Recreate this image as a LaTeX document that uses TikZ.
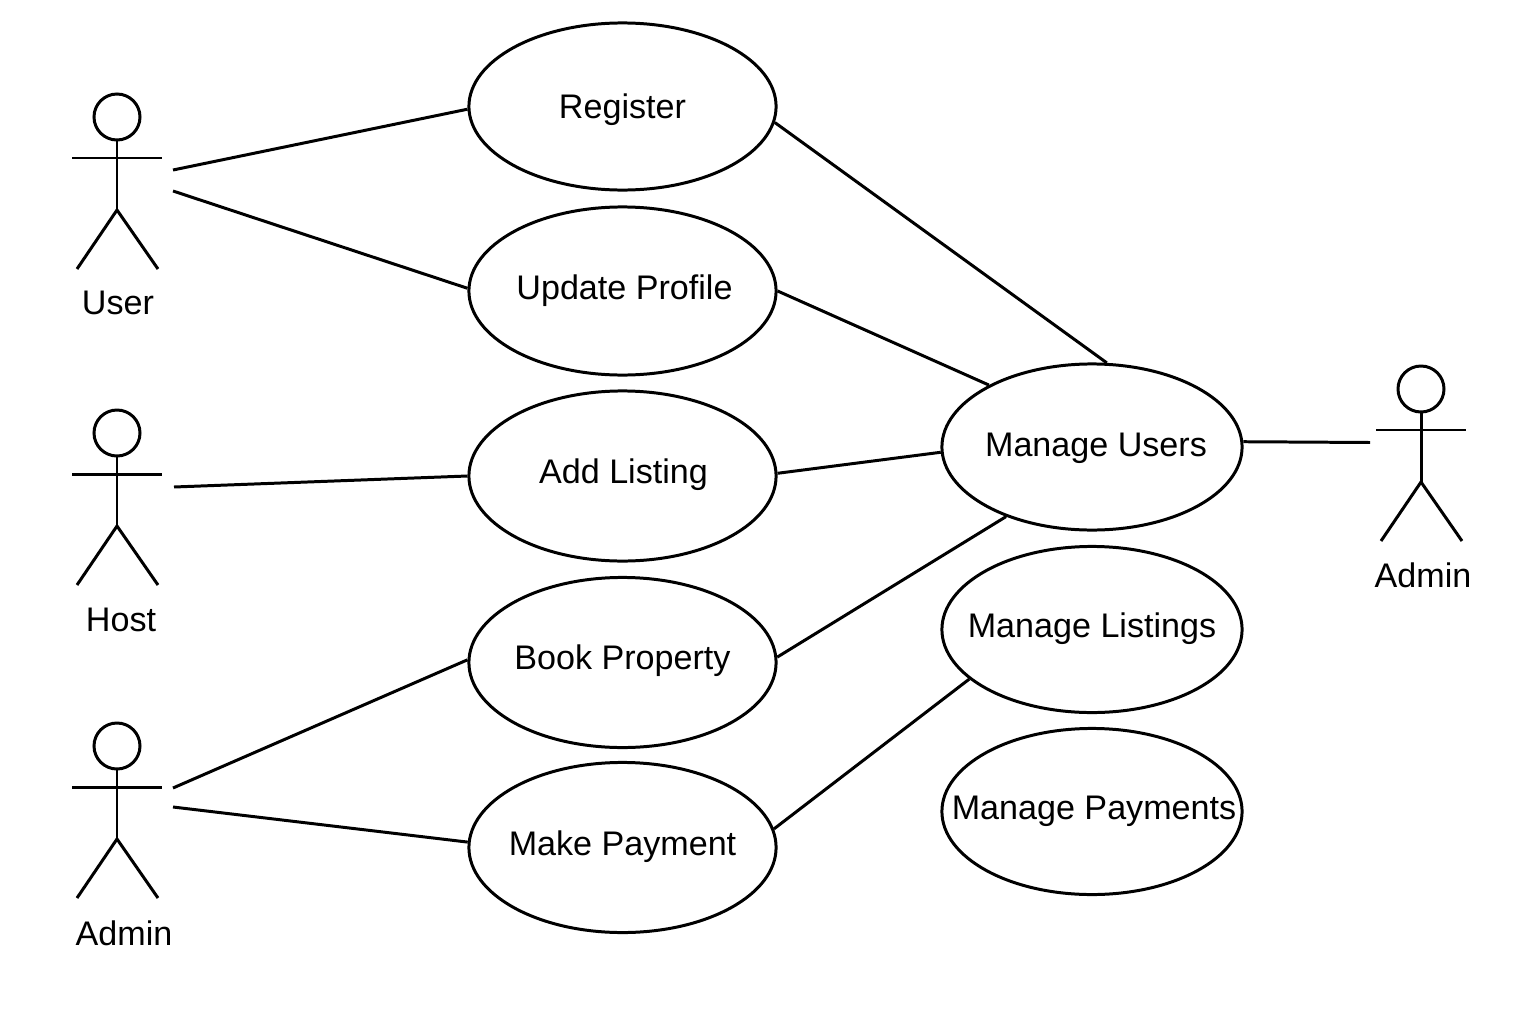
\documentclass[tikz,border=0pt]{standalone}
\usepackage{fontspec}
\setmainfont{Liberation Sans}
\usetikzlibrary{shapes.geometric}
\tikzset{
	usecase/.style={draw, ellipse, inner sep=0, minimum width=3.07cm, minimum height=1.70cm, font=\fontsize{9.7}{12}\selectfont},
	managecase/.style={usecase, minimum width=3cm, minimum height=1.66cm},
	actorname/.style={inner sep=0, font=\fontsize{9.7}{12}\selectfont}
}
\def\uctext(#1,#2)#3{\makebox[0pt]{\hspace{\dimexpr 0.02cm*#1\relax}\vphantom{#3}\smash{\raisebox{\dimexpr 0.01cm*#2\relax}{#3}}}}
\def\stickman(#1,#2){
	\draw (#1, #2) circle (23);
	\draw (#1, #2+23) -- (#1, #2+93);
	\draw (#1-45, #2+41) -- (#1+45, #2+41);
	\draw (#1-40, #2+152) -- (#1, #2+93) -- (#1+41, #2+152);
}

\begin{document}
\begin{tikzpicture}[x=0.01cm, y=-0.01cm, line width=0.85pt]
	\useasboundingbox (0, 0) rectangle (1536, 1024);

	%%%%% ACTORS %%%%%
	\stickman(117, 117);
	\node[actorname] (user) at (118, 303) {User};
	\stickman(117, 433);
	\node[actorname] (host) at (121, 620) {Host};
	\stickman(117, 746);
	\node[actorname] (adminleft) at (124, 933) {Admin};
	\stickman(1421, 389);
	\node[actorname] (adminright) at (1423, 575) {Admin};

	\coordinate (userup) at (173, 170);
	\coordinate (userdown) at (173, 191);
	\coordinate (hostend) at (174, 487);
	\coordinate (adminup) at (173, 788);
	\coordinate (admindown) at (173, 807);
	\coordinate (adminend) at (1370, 442.5);

	%%%%% USE CASES %%%%%
	\node[usecase, minimum height=1.67cm] (register) at (622.5, 106.5) {\uctext(0,-3){Register}};
	\node[usecase, minimum height=1.68cm] (update) at (622.5, 291) {\uctext(2,0){Update Profile}};
	\node[usecase] (addlisting) at (622.5, 476) {\uctext(1,1){Add Listing}};
	\node[usecase] (book) at (622.5, 662.5) {\uctext(0,2){Book Property}};
	\node[usecase] (payment) at (622.5, 847.5) {\uctext(0,1){Make Payment}};

	\node[managecase] (manageusers) at (1092, 447) {\uctext(4,-1){Manage Users}};
	\node[managecase] (managelistings) at (1092, 629.5) {\uctext(0,1){Manage Listings}};
	\node[managecase] (managepayments) at (1092, 811.5) {\uctext(2,0){Manage Payments}};

	%%%%% CONNECTORS %%%%%
	\draw (userup) -- (register.181);
	\draw (userdown) -- (update.179);
	\draw (hostend) -- (addlisting.west);
	\draw (adminup) -- (book.179);
	\draw (admindown) -- (payment.178);

	\draw (register.-6) -- (manageusers.80);
	\draw (update.0) -- (manageusers.149);
	\draw (addlisting.1) -- (manageusers.182);
	\draw (book.2) -- (manageusers.219);
	\draw (payment.7) -- (managelistings.202);
	\draw (manageusers.2) -- (adminend);
\end{tikzpicture}
\end{document}
